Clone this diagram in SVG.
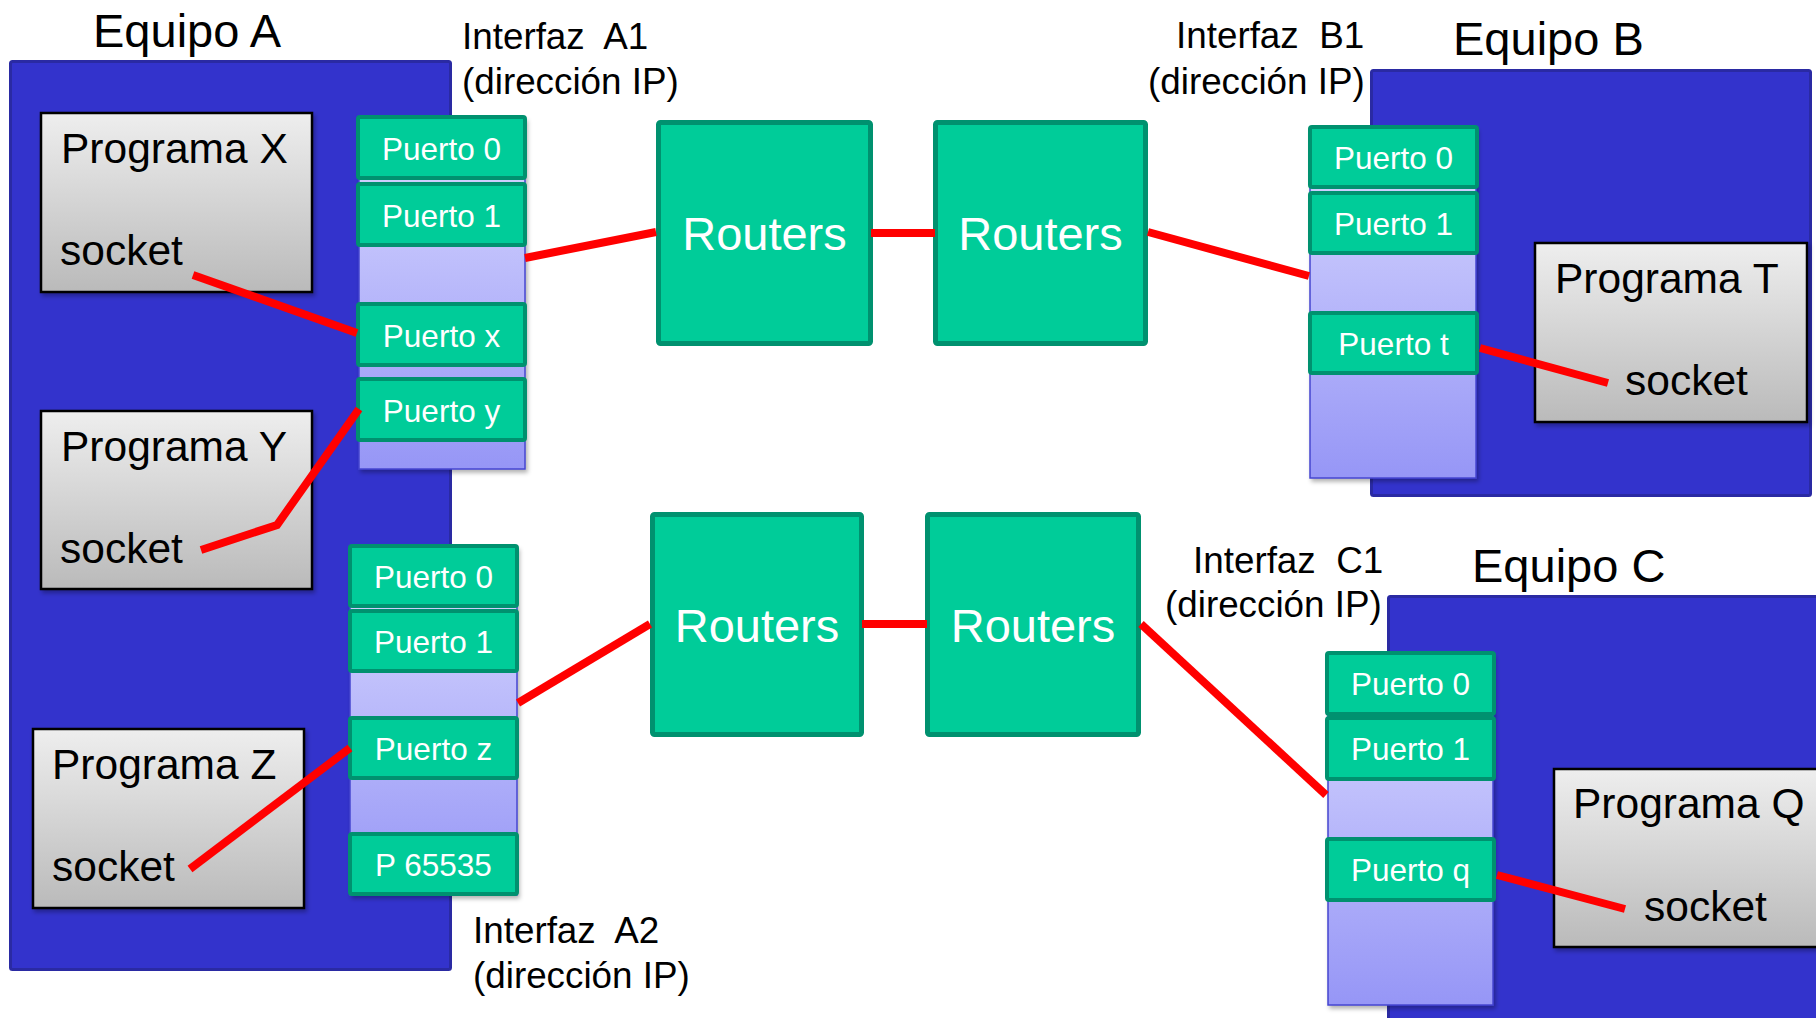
<svg xmlns="http://www.w3.org/2000/svg" width="1816" height="1018" viewBox="0 0 1816 1018">
<defs>
<linearGradient id="gProg" x1="0" y1="0" x2="0" y2="1">
<stop offset="0" stop-color="#eeeeee"/>
<stop offset="1" stop-color="#bababa"/>
</linearGradient>
<linearGradient id="gLav" x1="0" y1="0" x2="0" y2="1">
<stop offset="0" stop-color="#dadaff"/>
<stop offset="1" stop-color="#9696f6"/>
</linearGradient>
<filter id="sh" x="-10%" y="-10%" width="130%" height="130%">
<feDropShadow dx="2" dy="3" stdDeviation="2" flood-color="#000" flood-opacity="0.3"/>
</filter>
<style>
.equipo{fill:#3333cc;stroke:#2a2aa3;stroke-width:3}
.prog{fill:url(#gProg);stroke:#000;stroke-width:2.5;filter:url(#sh)}
.lav{fill:url(#gLav);stroke:#4646d0;stroke-width:1.5;filter:url(#sh)}
.port{fill:#00cc99;stroke:#00916f;stroke-width:4}
.router{fill:#00cc99;stroke:#00916f;stroke-width:5}
text{font-family:"Liberation Sans",Arial,sans-serif}
.eq{font-size:47px;fill:#000}
.itf{font-size:36.8px;fill:#000;white-space:pre}
.pt{font-size:42.5px;fill:#000}
.pl{font-size:31.5px;fill:#fff;text-anchor:middle}
.rt{font-size:47px;fill:#fff;text-anchor:middle}
.link{stroke:#ff0000;stroke-width:8;fill:none}
</style>
</defs>
<rect width="1816" height="1018" fill="#ffffff"/>

<g id="equipoA">
<rect class="equipo" x="10.5" y="61.5" width="440" height="908" rx="2"/>
<text class="eq" x="93" y="47">Equipo A</text>
</g>
<g id="equipoB">
<rect class="equipo" x="1371.5" y="70.5" width="439" height="425" rx="2"/>
<text class="eq" x="1453" y="55">Equipo B</text>
</g>
<g id="equipoC">
<rect class="equipo" x="1388.5" y="596.5" width="450" height="450" rx="2"/>
<text class="eq" x="1472" y="582">Equipo C</text>
</g>

<g id="programaX">
<rect class="prog" x="41" y="113" width="271" height="179"/>
<text class="pt" x="61" y="163">Programa X</text>
<text class="pt" x="60" y="265">socket</text>
</g>
<g id="programaY">
<rect class="prog" x="41" y="411" width="271" height="178"/>
<text class="pt" x="61" y="461">Programa Y</text>
<text class="pt" x="60" y="563">socket</text>
</g>
<g id="programaZ">
<rect class="prog" x="33" y="729" width="271" height="179"/>
<text class="pt" x="52" y="779">Programa Z</text>
<text class="pt" x="52" y="881">socket</text>
</g>
<g id="programaT">
<rect class="prog" x="1535" y="243" width="272" height="179"/>
<text class="pt" x="1555" y="293">Programa T</text>
<text class="pt" x="1625" y="395">socket</text>
</g>
<g id="programaQ">
<rect class="prog" x="1554" y="769" width="280" height="178"/>
<text class="pt" x="1573" y="818">Programa Q</text>
<text class="pt" x="1644" y="921">socket</text>
</g>

<g id="interfazA1">
<text class="itf" x="462" y="49">Interfaz  A1</text>
<text class="itf" x="462" y="94">(dirección IP)</text>
<rect class="lav" x="359" y="118" width="166" height="351"/>
<rect class="port" x="358" y="117" width="167" height="61" rx="2"/>
<text class="pl" x="441.5" y="160">Puerto 0</text>
<rect class="port" x="358" y="184" width="167" height="61" rx="2"/>
<text class="pl" x="441.5" y="227">Puerto 1</text>
<rect class="port" x="358" y="304" width="167" height="61" rx="2"/>
<text class="pl" x="441.5" y="347">Puerto x</text>
<rect class="port" x="358" y="379" width="167" height="61" rx="2"/>
<text class="pl" x="441.5" y="422">Puerto y</text>
</g>

<g id="interfazA2">
<text class="itf" x="473" y="943">Interfaz  A2</text>
<text class="itf" x="473" y="988">(dirección IP)</text>
<rect class="lav" x="350" y="547" width="167" height="348"/>
<rect class="port" x="350" y="546" width="167" height="60" rx="2"/>
<text class="pl" x="433.5" y="588">Puerto 0</text>
<rect class="port" x="350" y="611" width="167" height="60" rx="2"/>
<text class="pl" x="433.5" y="653">Puerto 1</text>
<rect class="port" x="350" y="718" width="167" height="60" rx="2"/>
<text class="pl" x="433.5" y="760">Puerto z</text>
<rect class="port" x="350" y="834" width="167" height="60" rx="2"/>
<text class="pl" x="433.5" y="876">P 65535</text>
</g>

<g id="interfazB1">
<text class="itf" x="1176" y="48">Interfaz  B1</text>
<text class="itf" x="1148" y="94">(dirección IP)</text>
<rect class="lav" x="1310" y="128" width="166" height="350"/>
<rect class="port" x="1310" y="127" width="167" height="60" rx="2"/>
<text class="pl" x="1393.5" y="169">Puerto 0</text>
<rect class="port" x="1310" y="193" width="167" height="60" rx="2"/>
<text class="pl" x="1393.5" y="235">Puerto 1</text>
<rect class="port" x="1310" y="313" width="167" height="60" rx="2"/>
<text class="pl" x="1393.5" y="355">Puerto t</text>
</g>

<g id="interfazC1">
<text class="itf" x="1193" y="573">Interfaz  C1</text>
<text class="itf" x="1165" y="617">(dirección IP)</text>
<rect class="lav" x="1328" y="654" width="165" height="351"/>
<rect class="port" x="1327" y="653" width="167" height="61" rx="2"/>
<text class="pl" x="1410.5" y="695">Puerto 0</text>
<rect class="port" x="1327" y="718" width="167" height="61" rx="2"/>
<text class="pl" x="1410.5" y="760">Puerto 1</text>
<rect class="port" x="1327" y="839" width="167" height="61" rx="2"/>
<text class="pl" x="1410.5" y="881">Puerto q</text>
</g>

<g id="router1">
<rect class="router" x="658.5" y="122.5" width="212" height="221" rx="2"/>
<text class="rt" x="764.5" y="250">Routers</text>
</g>
<g id="router2">
<rect class="router" x="935.5" y="122.5" width="210" height="221" rx="2"/>
<text class="rt" x="1040.5" y="250">Routers</text>
</g>
<g id="router3">
<rect class="router" x="652.5" y="514.5" width="209" height="220" rx="2"/>
<text class="rt" x="757" y="642">Routers</text>
</g>
<g id="router4">
<rect class="router" x="927.5" y="514.5" width="211" height="220" rx="2"/>
<text class="rt" x="1033" y="642">Routers</text>
</g>

<g id="connectors">
<line class="link" x1="193" y1="275" x2="357" y2="333"/>
<line class="link" x1="525" y1="258" x2="656" y2="232"/>
<line class="link" x1="871" y1="233" x2="935" y2="233"/>
<line class="link" x1="1148" y1="232" x2="1309" y2="276"/>
<line class="link" x1="1480" y1="348" x2="1608" y2="383"/>
<polyline class="link" points="201,550 277,525 359,409"/>
<line class="link" x1="190" y1="869" x2="350" y2="748"/>
<line class="link" x1="518" y1="703" x2="650" y2="624"/>
<line class="link" x1="862" y1="624" x2="927" y2="624"/>
<line class="link" x1="1141" y1="624" x2="1326" y2="795"/>
<line class="link" x1="1497" y1="875" x2="1625" y2="909"/>
</g>
</svg>
